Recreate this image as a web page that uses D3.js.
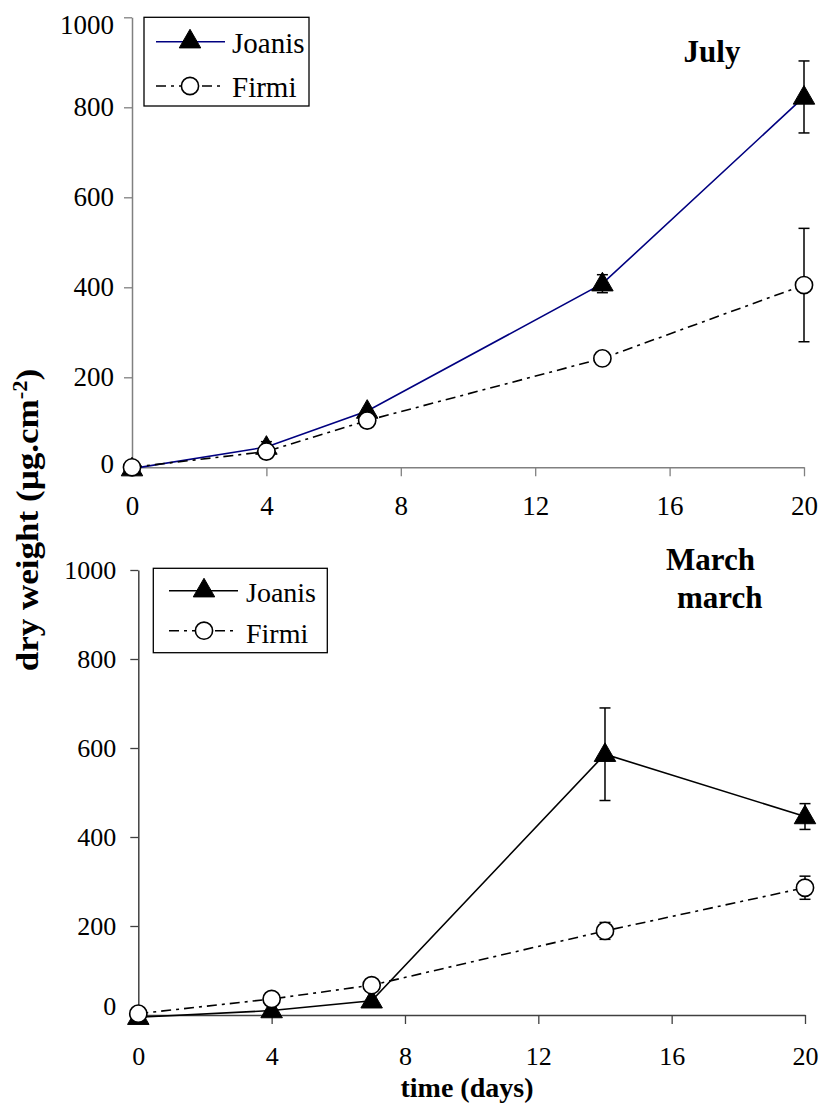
<!DOCTYPE html>
<html>
<head>
<meta charset="utf-8">
<script src="https://cdn.jsdelivr.net/npm/d3@7"></script>
<style>
  html, body { margin: 0; padding: 0; background: #fff; }
  svg { display: block; }
</style>
</head>
<body>
<svg id="chart" width="820" height="1105"></svg>
<script>
// ---------- data ----------
const days = [0, 4, 7, 14, 20];
const xTicks = [0, 4, 8, 12, 16, 20];
const yTicks = [0, 200, 400, 600, 800, 1000];
const seriesNames = ["Joanis", "Firmi"];

const julyJoanis    = [-3, 45, 125, 408, 823];
const julyJoanisErr = [0, 12, 0, 20, 80];
const julyFirmi     = [0, 35, 104, 242, 405];
const julyFirmiErr  = [0, 0, 0, 0, 126];

const marchJoanis    = [-5, 10, 32, 586, 446];
const marchJoanisErr = [0, 0, 0, 104, 29];
const marchFirmi     = [3, 36, 67, 189, 286];
const marchFirmiErr  = [0, 0, 0, 19, 26];

const panelTitles = [["July"], ["March", "march"]];
const xTitle = "time (days)";
const yTitle = "dry weight (µg.cm";
const yTitleSup = "-2";

// ---------- drawing ----------
const svg = d3.select("#chart");
const FONT = "Liberation Serif";

const panels = [
  {
    joanis: julyJoanis, joanisErr: julyJoanisErr, firmi: julyFirmi, firmiErr: julyFirmiErr,
    xRange: [132, 804], yRange: [467.3, 17.3], axisColor: "#808080", joanisColor: "#000080",
    tickFont: 27, xLabelOff: 48, yPad: 10, yLabelShift: { 1000: 8, 0: -3 },
    legend: { x0: 144, y0: 17.3, x1: 309, y1: 106, lineX0: 156, lineX1: 225, markX: 190, row1: 41.7, row2: 86, textX: 232, base1: 53, base2: 97, font: 29 },
    title: [{ x: 712, y: 62, anchor: "middle" }]
  },
  {
    joanis: marchJoanis, joanisErr: marchJoanisErr, firmi: marchFirmi, firmiErr: marchFirmiErr,
    xRange: [138.3, 805], yRange: [1015, 570], axisColor: "#404040", joanisColor: "#000000",
    tickFont: 26, xLabelOff: 50, yPad: 14, yLabelShift: { 0: -9 },
    legend: { x0: 153.3, y0: 568.3, x1: 327.3, y1: 652.7, lineX0: 169, lineX1: 238, markX: 204, row1: 590.7, row2: 630.7, textX: 246, base1: 601.7, base2: 643.3, font: 28 },
    title: [{ x: 666, y: 570, anchor: "start" }, { x: 677, y: 608, anchor: "start" }]
  }
];

const triSym = d3.symbol().type(d3.symbolTriangle).size(200);

function drawTriangle(g, x, y) {
  g.append("path").attr("d", triSym()).attr("transform", `translate(${x},${y + 1})`)
    .attr("fill", "#000").attr("stroke", "#000").attr("stroke-width", 1);
}
function drawCircle(g, x, y) {
  g.append("circle").attr("cx", x).attr("cy", y).attr("r", 8.6)
    .attr("fill", "#fff").attr("stroke", "#000").attr("stroke-width", 1.6);
}
function errBar(g, cx, yTop, yBot) {
  g.append("line").attr("x1", cx).attr("x2", cx).attr("y1", yTop).attr("y2", yBot).attr("stroke", "#000").attr("stroke-width", 1.5);
  [yTop, yBot].forEach(t => g.append("line").attr("x1", cx - 5.5).attr("x2", cx + 5.5).attr("y1", t).attr("y2", t).attr("stroke", "#000").attr("stroke-width", 1.5));
}
function txt(g, x, y, s, size, bold, anchor) {
  return g.append("text").attr("x", x).attr("y", y).attr("text-anchor", anchor || "start")
    .style("font-family", FONT).style("font-size", size + "px").style("font-weight", bold ? "bold" : "normal")
    .attr("fill", "#000").text(s);
}

panels.forEach((p, pi) => {
  const g = svg.append("g");
  const x = d3.scaleLinear().domain([0, 20]).range(p.xRange);
  const y = d3.scaleLinear().domain([0, 1000]).range(p.yRange);

  // axes
  const yAxis = g.append("g").attr("transform", `translate(${p.xRange[0]},0)`)
    .call(d3.axisLeft(y).tickValues(yTicks).tickSize(8).tickSizeOuter(0).tickPadding(p.yPad).tickFormat(d3.format("d")));
  const xAxis = g.append("g").attr("transform", `translate(0,${p.yRange[0]})`)
    .call(d3.axisBottom(x).tickValues(xTicks).tickSize(9).tickSizeOuter(0).tickFormat(d3.format("d")));
  [yAxis, xAxis].forEach(a => {
    a.select(".domain").attr("stroke", p.axisColor).attr("stroke-width", 1.5);
    a.selectAll(".tick line").attr("stroke", p.axisColor).attr("stroke-width", 1.3);
    a.selectAll(".tick text").attr("fill", "#000")
      .style("font-family", FONT).style("font-size", p.tickFont + "px");
  });
  xAxis.selectAll(".tick text").attr("y", p.xLabelOff).attr("dy", 0);
  yAxis.selectAll(".tick text").attr("y", d => p.yLabelShift[d] || 0);

  const line = d3.line().x((d, i) => x(days[i])).y(d => y(d));

  // Joanis
  g.append("path").datum(p.joanis).attr("d", line).attr("fill", "none")
    .attr("stroke", p.joanisColor).attr("stroke-width", 1.6);
  p.joanis.forEach((v, i) => {
    const e = p.joanisErr[i];
    if (e > 0) errBar(g, x(days[i]), y(v + e), y(v - e));
  });
  p.joanis.forEach((v, i) => drawTriangle(g, x(days[i]), y(v)));

  // Firmi
  g.append("path").datum(p.firmi).attr("d", line).attr("fill", "none")
    .attr("stroke", "#000").attr("stroke-width", 1.6).attr("stroke-dasharray", "10,5,3,5");
  p.firmi.forEach((v, i) => {
    const e = p.firmiErr[i];
    if (e > 0) errBar(g, x(days[i]), y(v + e), y(v - e));
  });
  p.firmi.forEach((v, i) => drawCircle(g, x(days[i]), y(v)));

  // legend
  const L = p.legend;
  g.append("rect").attr("x", L.x0).attr("y", L.y0).attr("width", L.x1 - L.x0).attr("height", L.y1 - L.y0)
    .attr("fill", "#fff").attr("stroke", "#000").attr("stroke-width", 1.3);
  g.append("line").attr("x1", L.lineX0).attr("x2", L.lineX1).attr("y1", L.row1).attr("y2", L.row1)
    .attr("stroke", p.joanisColor).attr("stroke-width", 1.6);
  drawTriangle(g, L.markX, L.row1 - 1);
  g.append("line").attr("x1", L.lineX0).attr("x2", L.lineX1).attr("y1", L.row2).attr("y2", L.row2)
    .attr("stroke", "#000").attr("stroke-width", 1.6).attr("stroke-dasharray", "10,5,3,5");
  drawCircle(g, L.markX, L.row2);
  txt(g, L.textX, L.base1, seriesNames[0], L.font, false);
  txt(g, L.textX, L.base2, seriesNames[1], L.font, false);

  // panel title
  panelTitles[pi].forEach((t, k) => {
    const pos = p.title[k];
    txt(g, pos.x, pos.y, t, 31, true, pos.anchor);
  });
});

// x title
txt(svg, 467, 1097, xTitle, 28, true, "middle");

// y title (slightly stretched along its length, like the reference)
const yt = svg.append("text").attr("transform", "translate(38,520) rotate(-90) scale(1.13,1)").attr("text-anchor", "middle")
  .style("font-family", FONT).style("font-weight", "bold").style("font-size", "31px");
yt.append("tspan").text(yTitle);
yt.append("tspan").attr("dy", -11).style("font-size", "20px").text(yTitleSup);
yt.append("tspan").attr("dy", 11).text(")");
</script>
</body>
</html>
